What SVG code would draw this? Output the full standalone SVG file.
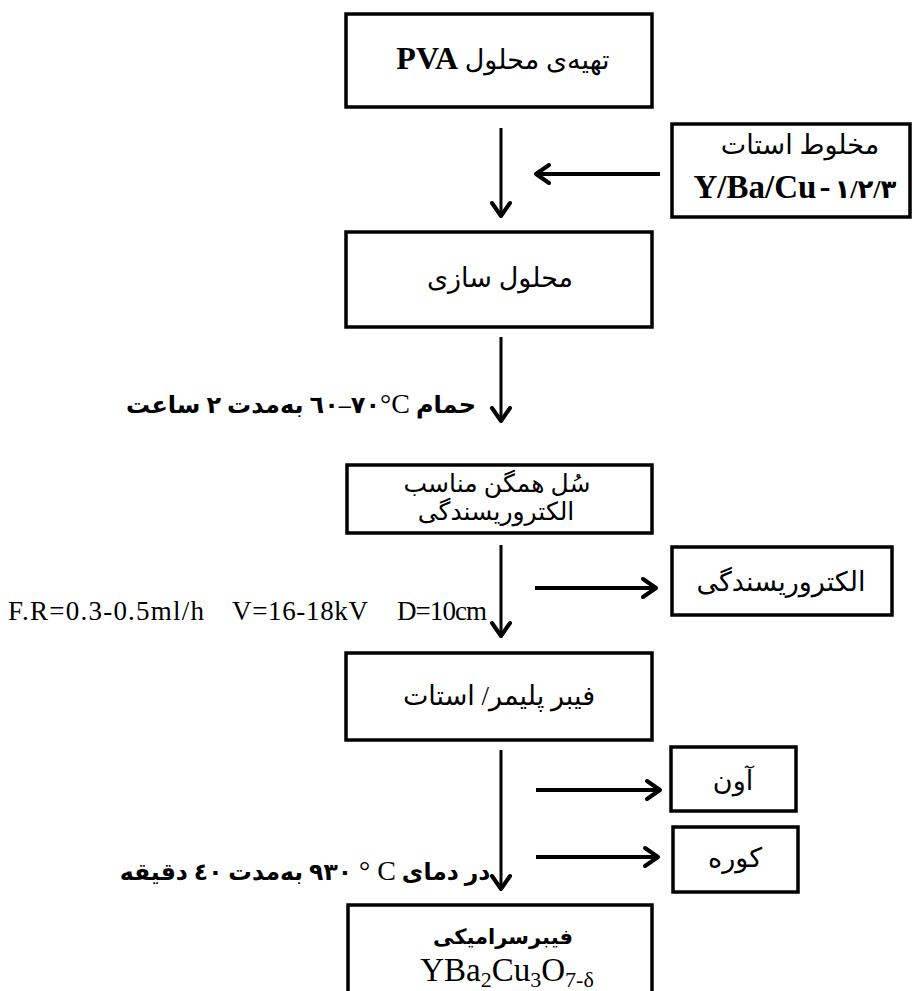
<svg xmlns="http://www.w3.org/2000/svg" width="913" height="991" viewBox="0 0 913 991">
<defs>
<style>
.box{fill:#fff;stroke:#000;stroke-width:3.5}
.ln{stroke:#000;stroke-width:3;fill:none}
.lh{stroke:#000;stroke-width:4;fill:none}
.ar{font-family:'Liberation Serif','DejaVu Sans',serif;font-size:27px;fill:#000}
.lat{font-family:'Liberation Serif',serif;fill:#000}
.b{font-weight:bold}
.ltr{unicode-bidi:bidi-override;direction:ltr}
</style>
<marker id="ah" markerUnits="userSpaceOnUse" markerWidth="30" markerHeight="30" viewBox="-20 -15 30 30" refX="0" refY="0" orient="auto" overflow="visible">
<path d="M-13,-9 L0,0 L-13,9" fill="none" stroke="#000" stroke-width="4" stroke-linecap="round" stroke-linejoin="round"/>
</marker>
</defs>
<rect width="913" height="991" fill="#fff"/>

<g id="connectors">
<line class="ln" x1="501" y1="128" x2="501" y2="216" marker-end="url(#ah)"/>
<line class="lh" x1="660" y1="174" x2="536" y2="174" marker-end="url(#ah)"/>
<line class="ln" x1="501" y1="337" x2="501" y2="421" marker-end="url(#ah)"/>
<line class="ln" x1="501" y1="545" x2="501" y2="636" marker-end="url(#ah)"/>
<line class="lh" x1="535" y1="588" x2="656" y2="588" marker-end="url(#ah)"/>
<line class="ln" x1="501" y1="750" x2="501" y2="889" marker-end="url(#ah)"/>
<line class="lh" x1="536" y1="790" x2="660" y2="790" marker-end="url(#ah)"/>
<line class="lh" x1="536" y1="857" x2="658" y2="857" marker-end="url(#ah)"/>
</g>

<g id="n1">
<rect class="box" x="346" y="14" width="306" height="93"/>
<text class="ar" x="503" y="69" text-anchor="middle" direction="rtl">تهیەی محلول <tspan class="lat b" font-size="32">PVA</tspan></text>
</g>

<g id="n_mix">
<rect class="box" x="672" y="124" width="238" height="93"/>
<text class="ar" x="800" y="154" text-anchor="middle" direction="rtl">مخلوط استات</text>
<text class="ar b ltr" x="795" y="198" text-anchor="middle" direction="ltr"><tspan class="lat" font-size="33">Y/Ba/Cu</tspan><tspan dx="3" class="lat" font-size="33">-</tspan><tspan dx="4" font-size="26">١/٢/٣</tspan></text>
</g>

<g id="n2">
<rect class="box" x="346" y="232" width="306" height="95"/>
<text class="ar" x="500" y="287" text-anchor="middle" direction="rtl">محلول سازی</text>
</g>

<g id="lbl1">
<text class="ar b" style="font-size:24px" x="301" y="413" text-anchor="middle" direction="rtl">حمام <tspan class="ltr">٦٠–٧٠<tspan class="lat" font-size="28" font-weight="normal">°C</tspan></tspan> بەمدت ٢ ساعت</text>
</g>

<g id="n3">
<rect class="box" x="347" y="465" width="305" height="68"/>
<text class="ar" style="font-size:25px" x="497" y="492" text-anchor="middle" direction="rtl">سُل همگن مناسب</text>
<text class="ar" style="font-size:25px" x="496" y="520" text-anchor="middle" direction="rtl">الکتروریسندگی</text>
</g>

<g id="lbl2">
<text class="lat" font-size="27" x="8" y="620" textLength="196">F.R=0.3-0.5ml/h</text>
<text class="lat" font-size="27" x="232" y="620" textLength="136">V=16-18kV</text>
<text class="lat" font-size="27" x="397" y="620" textLength="90">D=10cm</text>
</g>

<g id="n_electro">
<rect class="box" x="672" y="547" width="220" height="68"/>
<text class="ar" x="781" y="591" text-anchor="middle" direction="rtl">الکتروریسندگی</text>
</g>

<g id="n4">
<rect class="box" x="346" y="653" width="306" height="87"/>
<text class="ar" x="499" y="705" text-anchor="middle" direction="rtl">فیبر پلیمر/ استات</text>
</g>

<g id="n_oven">
<rect class="box" x="671" y="747" width="125" height="64"/>
<text class="ar" x="733" y="790" text-anchor="middle" direction="rtl">آون</text>
</g>

<g id="n_furnace">
<rect class="box" x="673" y="827" width="125" height="65"/>
<text class="ar" x="735" y="867" text-anchor="middle" direction="rtl">کوره</text>
</g>

<g id="lbl3">
<text class="ar b" style="font-size:23.5px" x="305" y="880" text-anchor="middle" direction="rtl">در دمای <tspan class="ltr">٩٣٠<tspan class="lat" font-size="28" font-weight="normal"> ° C</tspan></tspan> بەمدت ٤٠ دقیقه</text>
</g>

<g id="n_final">
<rect class="box" x="348" y="905" width="304" height="100"/>
<text class="ar b" style="font-size:21px" x="503" y="944" text-anchor="middle" direction="rtl">فیبرسرامیکی</text>
<text class="lat" font-size="33" x="507" y="981" text-anchor="middle">YBa<tspan font-size="22" dy="6">2</tspan><tspan dy="-6">Cu</tspan><tspan font-size="22" dy="6">3</tspan><tspan dy="-6">O</tspan><tspan font-size="22" dy="6">7-δ</tspan></text>
</g>
</svg>
